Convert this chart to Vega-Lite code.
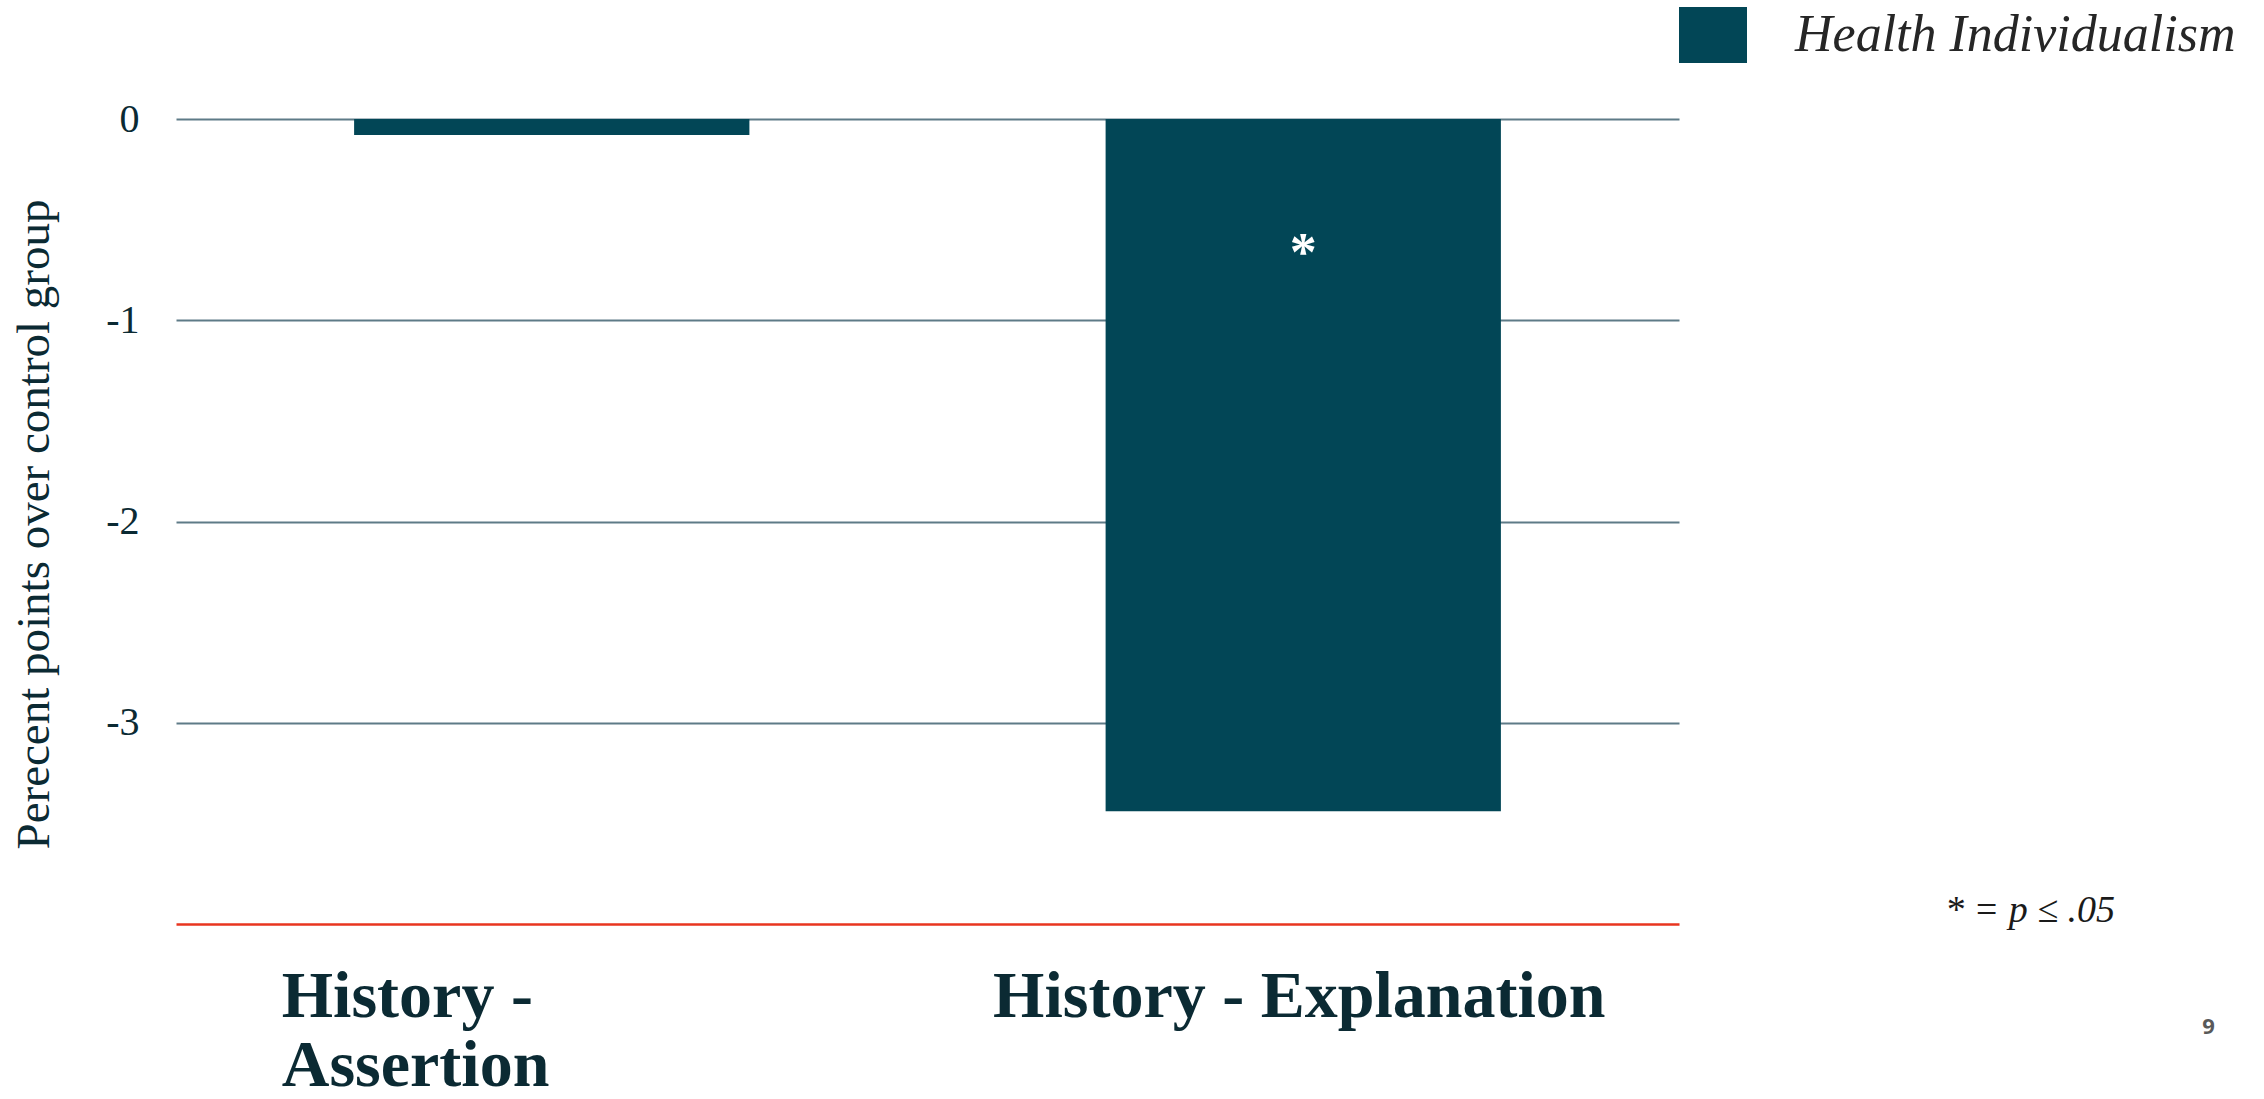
{
  "$schema": "https://vega.github.io/schema/vega-lite/v6.json",
  "width": 1503,
  "height": 805,
  "autosize": {"type": "none"},
  "padding": {"left": 176, "top": 119, "right": 585, "bottom": 175},
  "background": "white",
  "config": {"view": {"stroke": null}},
  "title": {
    "text": "* = p ≤ .05",
    "orient": "top",
    "anchor": "start",
    "frame": "group",
    "font": "Liberation Serif",
    "fontStyle": "italic",
    "fontWeight": "normal",
    "fontSize": 38,
    "color": "#1a1a1a",
    "baseline": "alphabetic",
    "offset": 0,
    "dx": 1769,
    "dy": 959
  },
  "data": {
    "values": [
      {"condition": "History - Assertion", "value": -0.08, "series": "Health Individualism", "sig": ""},
      {"condition": "History - Explanation", "value": -3.44, "series": "Health Individualism", "sig": "*"}
    ]
  },
  "encoding": {
    "x": {
      "field": "condition",
      "type": "nominal",
      "sort": null,
      "scale": {"paddingInner": 0.474, "paddingOuter": 0.237},
      "axis": {
        "title": "9",
        "titleX": 2032,
        "titleY": 109,
        "titleAlign": "center",
        "titleBaseline": "alphabetic",
        "titleFont": "Open Sans",
        "titleFontWeight": "bold",
        "titleFontSize": 22,
        "titleColor": "#595959",
        "labelExpr": "datum.value == 'History - Assertion' ? ['History -', 'Assertion'] : datum.label",
        "labelAlign": {"condition": {"test": "datum.value == 'History - Assertion'", "value": "left"}, "value": "center"},
        "labelOffset": {"condition": {"test": "datum.value == 'History - Assertion'", "value": -270}, "value": -4},
        "labelBaseline": "alphabetic",
        "labelPadding": 92,
        "labelLineHeight": 69,
        "labelFont": "Liberation Serif",
        "labelFontWeight": "bold",
        "labelFontSize": 66,
        "labelColor": "#0B2A33",
        "labelAngle": 0,
        "labelLimit": 2000,
        "labelOverlap": false,
        "domainColor": "#E8351F",
        "domainWidth": 2.5,
        "ticks": false,
        "tickSize": 0,
        "grid": false
      }
    }
  },
  "layer": [
    {
      "mark": {"type": "bar"},
      "encoding": {
        "y": {
          "field": "value",
          "type": "quantitative",
          "scale": {"domain": [-4, 0], "nice": false, "zero": true},
          "axis": {
            "values": [0, -1, -2, -3],
            "labelExpr": "datum.value == 0 ? '0' : '-' + abs(datum.value)",
            "grid": true,
            "gridColor": "#5E7B87",
            "gridWidth": 2,
            "domain": false,
            "ticks": false,
            "tickSize": 0,
            "labelFont": "Liberation Serif",
            "labelFontSize": 40,
            "labelColor": "#0B2A33",
            "labelPadding": 37,
            "title": "Perecent points over control group",
            "titleFont": "Liberation Serif",
            "titleFontSize": 47,
            "titleFontWeight": "normal",
            "titleColor": "#0B2A33",
            "titleX": -128,
            "titleY": 405,
            "titleAngle": -90,
            "titleAlign": "center",
            "titleBaseline": "alphabetic"
          }
        },
        "color": {
          "field": "series",
          "type": "nominal",
          "scale": {"range": ["#024656"]},
          "legend": {
            "orient": "none",
            "legendX": 1503,
            "legendY": -118,
            "title": null,
            "padding": 0,
            "symbolType": "M-1,-0.824H1V0.824H-1Z",
            "symbolSize": 4624,
            "symbolStrokeWidth": 0,
            "symbolOpacity": 1,
            "labelOffset": 48,
            "labelFont": "Liberation Serif",
            "labelFontStyle": "italic",
            "labelFontSize": 52,
            "labelColor": "#262626",
            "labelLimit": 2000
          }
        }
      }
    },
    {
      "mark": {"type": "text", "font": "Liberation Serif", "fontWeight": "bold", "fontSize": 54, "color": "white", "align": "center", "baseline": "alphabetic"},
      "encoding": {
        "y": {"datum": -0.75, "type": "quantitative"},
        "text": {"field": "sig"}
      }
    }
  ]
}
